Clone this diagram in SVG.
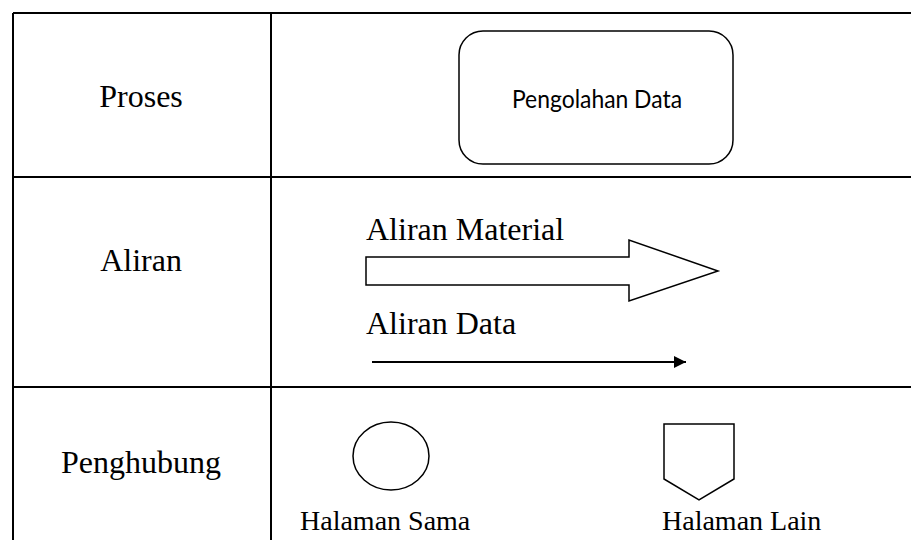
<svg xmlns="http://www.w3.org/2000/svg" width="911" height="540" viewBox="0 0 911 540">
  <defs>
    <style>
      .grid { stroke: #000; stroke-width: 2; fill: none; }
      .shape { stroke: #000; stroke-width: 1.5; fill: #fff; }
      .label { font-family: "Liberation Serif", "Times New Roman", serif; font-size: 32px; fill: #000; }
      .small { font-size: 28px; }
      .inner { font-family: Lato, "Noto Sans", sans-serif; font-size: 25px; fill: #000; }
    </style>
    <marker id="arrowHead" viewBox="0 0 10 10" refX="10" refY="5" markerWidth="15" markerHeight="12" markerUnits="userSpaceOnUse" orient="auto">
      <path d="M0,0 L10,5 L0,10 Z" fill="#000"/>
    </marker>
  </defs>

  <rect width="911" height="540" fill="#fff"/>

  <!-- table grid: open on the right and bottom -->
  <g id="table">
    <path class="grid" d="M13,13 H911 M13,13 V540 M271,13 V540 M13,177 H911 M13,387 H911"/>
  </g>

  <!-- row labels -->
  <g id="row-proses"><text class="label" x="141" y="107" text-anchor="middle">Proses</text></g>
  <g id="row-aliran"><text class="label" x="141" y="271" text-anchor="middle">Aliran</text></g>
  <g id="row-penghubung"><text class="label" x="141" y="473" text-anchor="middle">Penghubung</text></g>

  <!-- process symbol -->
  <g id="proses-symbol">
    <rect class="shape" x="459" y="31" width="274" height="133" rx="24" ry="24"/>
    <text class="inner" x="597" y="108" text-anchor="middle" textLength="170" lengthAdjust="spacingAndGlyphs">Pengolahan Data</text>
  </g>

  <!-- material flow symbol -->
  <g id="aliran-material">
    <text class="label" x="366" y="240">Aliran Material</text>
    <path class="shape" d="M366,257 H629 V240 L718,271 L629,301 V285 H366 Z"/>
  </g>

  <!-- data flow symbol -->
  <g id="aliran-data">
    <text class="label" x="366" y="334">Aliran Data</text>
  </g>

  <!-- connectors -->
  <g id="connectors">
    <line x1="372" y1="362" x2="686" y2="362" stroke="#000" stroke-width="2" marker-end="url(#arrowHead)"/>
  </g>

  <!-- on-page connector -->
  <g id="halaman-sama">
    <ellipse class="shape" cx="391" cy="456" rx="38" ry="34"/>
    <text class="label small" x="300" y="530">Halaman Sama</text>
  </g>

  <!-- off-page connector -->
  <g id="halaman-lain">
    <path class="shape" d="M664,424 H734 V479 L699,500 L664,479 Z"/>
    <text class="label small" x="662" y="530">Halaman Lain</text>
  </g>
</svg>
